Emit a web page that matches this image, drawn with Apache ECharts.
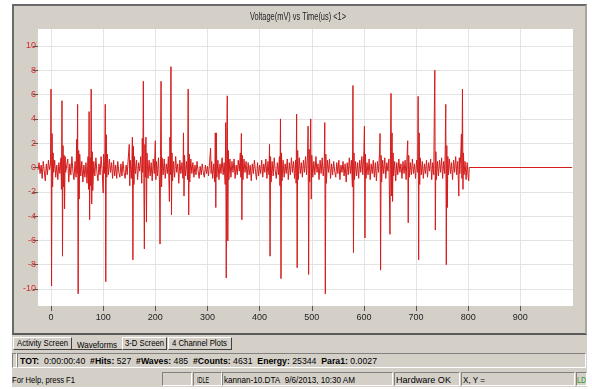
<!DOCTYPE html>
<html><head><meta charset="utf-8">
<script src="https://cdn.jsdelivr.net/npm/echarts@6/dist/echarts.min.js"></script>
<style>
html,body{margin:0;padding:0;background:#fff;}
#root{position:relative;width:592px;height:389px;overflow:hidden;font-family:'Liberation Sans',Arial,sans-serif;color:#000;}
.abs{position:absolute;}
#win{left:12px;top:4px;width:575px;height:383px;background:#d4d0c8;}
#panel{left:12px;top:4px;width:575px;height:331px;box-sizing:border-box;border-top:2px solid #6a6a6a;border-left:2px solid #6a6a6a;border-right:2px solid #a8a59e;border-bottom:2px solid #5a5a5a;}
#chart{left:0;top:0;width:592px;height:334px;}
.t{position:absolute;white-space:nowrap;font-size:9px;line-height:11px;transform-origin:0 50%;}
.tab{position:absolute;top:337px;height:13px;box-sizing:border-box;border-top:1px solid #fff;border-left:1px solid #fff;border-right:1px solid #404040;border-bottom:1px solid #404040;}
.sunk{position:absolute;box-sizing:border-box;border-top:1px solid #808080;border-left:1px solid #808080;border-right:1px solid #fff;border-bottom:1px solid #fff;}
</style></head>
<body>
<div id="root">
  <div id="win" class="abs"></div>
  <div id="panel" class="abs"></div>
  <div id="chart" class="abs"></div>
  <span class="t" style="left:250px;top:11px;font-size:10px;color:#222;" data-w="96">Voltage(mV) vs Time(us) &lt;1&gt;</span>

  <div class="tab" style="left:13px;width:59px;"></div>
  <div class="abs" style="left:72px;top:349px;width:50px;height:1px;background:#404040;"></div>
  <div class="tab" style="left:122px;width:45px;"></div>
  <div class="tab" style="left:168px;width:64px;"></div>
  <span class="t" style="left:17px;top:337.5px;" data-w="51">Activity Screen</span>
  <span class="t" style="left:77px;top:339.5px;" data-w="40">Waveforms</span>
  <span class="t" style="left:125px;top:337.5px;" data-w="39">3-D Screen</span>
  <span class="t" style="left:172px;top:337.5px;" data-w="55">4 Channel Plots</span>

  <div class="sunk" style="left:12px;top:353px;width:5px;height:15px;"></div>
  <div class="sunk" style="left:17px;top:353px;width:569px;height:15px;"></div>
  <span class="t" style="left:20px;top:355.5px;" data-w="357"><b>TOT:</b>&nbsp; 0:00:00:40&nbsp; <b>#Hits:</b> 527&nbsp; <b>#Waves:</b> 485&nbsp; <b>#Counts:</b> 4631&nbsp; <b>Energy:</b> 25344&nbsp; <b>Para1:</b> 0.0027</span>

  <span class="t" style="left:12px;top:374.5px;" data-w="63">For Help, press F1</span>
  <div class="sunk" style="left:162px;top:372px;width:30px;height:14px;"></div>
  <div class="sunk" style="left:193px;top:372px;width:29px;height:14px;"></div>
  <div class="sunk" style="left:222px;top:372px;width:171px;height:14px;"></div>
  <div class="sunk" style="left:394px;top:372px;width:66px;height:14px;"></div>
  <div class="sunk" style="left:461px;top:372px;width:114px;height:14px;"></div>
  <div class="sunk" style="left:576px;top:372px;width:11px;height:14px;"></div>
  <span class="t" style="left:197px;top:374.5px;" data-w="12">IDLE</span>
  <span class="t" style="left:224px;top:374.5px;" data-w="131">kannan-10.DTA&nbsp; 9/6/2013, 10:30 AM</span>
  <span class="t" style="left:396px;top:374.5px;" data-w="55">Hardware OK</span>
  <span class="t" style="left:463px;top:374.5px;" data-w="22">X, Y =</span>
  <span class="t" style="left:577px;top:374.5px;color:#2f9a2f;" data-w="9">LD</span>
</div>
<script>
// Tick values
const xTicks = [0, 100, 200, 300, 400, 500, 600, 700, 800, 900];
const yTicks = [-10, -8, -6, -4, -2, 0, 2, 4, 6, 8, 10];

// Waveform samples [time (us), voltage (mV)]
const wave1 = [[-25,-0.2],[-23,0.4],[-21,-0.5],[-19,0.2],[-17,-0.9],[-15,0.5],[-13,-0.3],[-11,-1.1],[-9,0.3],[-7,-0.6],[-5,0.6],[-3,-0.2],[-1,0.3],
[0,6.45],[1,-9.75],[2,2.8],[3,-1.6],[4,1.2],[5,-0.4],[7,0.6],[9,-0.8],[11,0.2],[13,-1.0],[15,0.4],[17,-0.5],[19,0.8],
[20,-1.8],[21,5.5],[22,-7.3],[23,1.8],[24,-1.6],[25,1.0],[26,-3.4],[27,0.9],[28,-0.4],[30,-0.4],[32,0.7],[34,-1.2],[36,0.3],[38,-0.6],[40,0.9],[42,-0.3],[44,-1.0],[46,0.5],[48,-0.8],
[49,2.3],[50,-0.5],[51,5.2],[52,-10.4],[53,1.4],[54,-2.6],[55,1.1],[57,-0.7],[59,0.5],[61,-1.2],[63,0.2],[65,-0.8],[67,0.4],[69,-1.3],[71,0.9],[72,-1.8],
[73,4.6],[74,-4.3],[75,0.8],[76,-1.5],[77,6.45],[78,-3.0],[79,1.3],[80,-1.9],[82,0.5],[84,-0.7],[86,0.8],[88,-0.4],[90,-1.1],[92,0.3],[94,-0.6],[96,0.9],[98,-0.2],
[100,-2.1],[101,1.1],[103,-0.5],[104,5.2],[105,-9.4],[106,2.7],[107,-0.8],[108,1.1],[110,-0.6],[112,0.7],[114,-0.4],[116,0.4],[118,-0.9],[120,0.6],[122,-0.7],[124,0.2],[126,-0.9],[128,0.5],[130,-0.4],[132,-0.8],[134,0.3],[136,-0.7],[138,0.5],[140,-0.4],[142,-0.9],[144,0.2],[146,-0.6],[148,0.7],
[150,1.9],[151,-1.5],[152,0.6],[154,-0.9],[155,0.3],[156,2.5],[157,-7.6],[158,1.75],[159,-1.4],[160,0.9],[162,-0.5],[164,0.6],[166,-1.0],[168,0.4],[170,-0.3],[172,0.9],[174,-1.3],
[175,2.4],[176,-0.4],[177,7.1],[178,-0.9],[179,-6.7],[180,1.9],[181,-0.8],[182,2.5],[183,-4.5],[184,1.2],[186,-0.9],[188,0.6],[190,-0.7],[192,0.4],[194,-1.1],[196,0.7],[198,-0.5]];
const wave2 = [[200,2.2],[201,-1.0],[202,0.5],[204,-0.7],[206,0.8],[208,-1.2],[209,-6.3],[210,1.0],[211,7.1],[212,-1.6],[213,0.8],[215,-0.6],[217,0.7],[219,-0.9],[221,0.3],[223,-0.5],[225,0.9],
[227,-2.8],[228,2.5],[229,-0.6],[230,8.3],[231,-3.9],[232,1.2],[233,-1.1],[235,0.5],[237,-0.8],[239,0.9],[241,-0.4],[243,0.3],[245,-1.3],[247,0.6],[249,-0.5],[251,0.4],[253,-0.9],
[254,2.85],[255,-2.35],[256,1.0],[258,-0.7],[260,0.5],[262,-1.0],[263,6.45],[264,-3.9],[265,1.1],[266,-1.2],[268,0.7],[270,-0.5],[272,0.4],[274,-0.8],[276,0.2],[278,-0.6],[280,0.5],[282,-0.3],[284,-0.9],[286,0.1],[288,-0.6],[290,0.3],[292,-0.4],[294,-0.8],[296,0.2],[298,-0.5],[300,0.1],[302,-0.7],[304,0.4],
[306,1.6],[307,-0.5],[308,0.5],[310,-0.9],[312,0.3],[314,-1.2],[315,2.85],[316,-3.3],[317,2.85],[318,-0.8],[320,0.6],[322,-1.0],[324,0.3],[326,-0.5],[328,0.8],[330,-0.6],[332,0.4],[334,-1.4],
[335,3.7],[336,-9.1],[337,1.6],[338,5.9],[339,-6.05],[340,1.4],[341,-1.0],[343,0.7],[345,-0.8],[347,0.5],[349,-0.4],[351,0.7],[353,-0.9],[355,0.2],[357,-0.6],[359,0.6],[361,-0.3],[363,1.2],[364,-0.8],
[365,2.8],[366,-4.3],[367,1.0],[368,-1.0],[370,0.7],[372,-0.4],[374,0.5],[376,-0.9],[378,0.4],[380,-0.6],[382,0.2],[384,-1.1],[386,0.3],[388,-0.5],[390,0.6],[392,-0.3],[394,-1.0],[396,0.4],[398,-0.7]];
const wave3 = [[400,0.2],[402,-0.5],[404,0.6],[406,-0.8],[408,0.3],[410,-0.4],[412,0.7],[414,-0.9],[416,0.5],[418,-0.6],[419,1.9],[420,-7.3],[421,0.9],[422,-1.2],[424,0.5],[426,-0.7],[428,0.8],[430,-0.3],[432,-0.9],[434,0.4],[436,-0.6],[438,0.9],
[439,-1.5],[440,4.0],[441,-9.15],[442,1.2],[443,-1.1],[445,0.6],[447,-0.8],[449,0.3],[451,-0.5],[453,0.7],[455,-1.0],[457,0.4],[459,-0.6],[461,0.8],[463,-0.4],[465,0.5],[467,-0.9],[469,0.6],
[470,-1.3],[471,4.4],[472,-8.25],[473,1.4],[474,-1.0],[476,0.8],[478,-0.5],[480,0.4],[482,-0.8],[484,0.6],[486,-0.4],[488,0.9],[490,-0.6],[492,1.1],
[493,3.4],[494,-8.8],[495,1.5],[496,-1.2],[497,0.7],[498,4.0],[499,-2.6],[500,1.0],[502,-0.8],[504,0.5],[506,-0.6],[508,0.9],[510,-0.4],[512,0.3],[514,-1.0],[516,0.6],[518,-0.5],[520,0.8],[522,-0.7],[524,0.4],
[525,3.7],[526,-10.4],[527,1.1],[528,-1.3],[530,0.6],[532,-0.4],[534,0.7],[536,-0.9],[538,0.3],[540,-0.6],[542,0.5],[544,-0.3],[546,-0.8],[548,0.4],[550,-0.5],[552,0.6],[554,-1.0],[556,0.2],[558,-0.4],[560,0.5],[562,-0.7],[564,0.3],[566,-1.2],[568,0.4],[570,-0.6],[572,0.8],[574,-0.5],[576,0.6],
[578,-1.6],[579,6.75],[580,-7.0],[581,1.2],[582,-1.0],[584,0.5],[586,-0.7],[588,0.4],[590,-0.9],[592,0.6],[594,-0.4],[596,0.9],[598,-0.6]];
const wave4 = [[600,1.3],[601,3.4],[602,-5.8],[603,1.1],[604,-0.9],[606,0.4],[608,-0.6],[610,0.7],[612,-1.0],[614,0.3],[616,-0.5],[618,0.6],[620,-0.8],[622,0.4],[624,-1.1],[626,0.5],[628,-0.4],
[630,1.2],[631,2.8],[632,-8.45],[633,1.0],[634,-1.2],[636,0.6],[638,-0.5],[640,0.8],[642,-0.9],[644,0.4],[646,-0.3],[648,0.7],
[650,-5.5],[651,1.3],[652,6.1],[653,-2.35],[654,2.85],[655,-2.8],[656,1.2],[657,-0.7],[659,0.5],[661,-1.1],[663,0.4],[665,-0.6],[667,0.7],[669,-0.4],[671,0.3],[673,-0.9],[675,0.5],[677,-0.5],[679,0.6],[681,-1.0],
[683,1.2],[684,2.2],[685,-4.55],[686,1.0],[687,-0.8],[689,0.4],[691,-0.6],[693,0.7],[695,-0.5],[697,0.3],[699,-0.9],[701,0.6],[703,-0.4],
[704,5.86],[705,-7.6],[706,2.85],[707,-1.4],[708,0.8],[710,-0.6],[712,0.5],[714,-0.9],[716,0.3],[718,-0.5],[720,0.6],[722,-0.8],[724,0.4],[726,-0.3],[728,0.7],[730,-1.0],[732,0.4],[734,-0.6],
[735,4.2],[736,8.0],[737,-5.15],[738,1.3],[739,-1.0],[741,0.5],[743,-0.7],[745,0.6],[747,-0.4],[749,0.8],[751,-0.9],[753,0.5],[755,-0.5],
[756,1.5],[757,5.2],[758,-8.0],[759,1.8],[760,-3.3],[761,0.9],[762,-0.6],[764,0.7],[766,-0.5],[768,0.4],[770,-1.0],[772,0.6],[774,-0.4],[776,0.9],[778,-0.6],[780,0.5],
[782,-2.35],[783,0.8],[784,-0.5],[786,1.4],[787,2.75],[788,-0.9],[789,6.45],[790,-1.8],[791,1.2],[792,-0.6],[794,0.5],[796,-1.0],[798,0.4],[800,-0.8],[801,-1.1],[802,0],[999,0]];

const samples = wave1.concat(wave2, wave3, wave4);

const chart = echarts.init(document.getElementById('chart'), null, {renderer: 'canvas', width: 592, height: 334});
const labelFont = {fontSize: 9, fontFamily: "'Liberation Sans', Arial, sans-serif"};
chart.setOption({
  animation: false,
  grid: {left: 38, top: 29, width: 535, height: 277, show: true, backgroundColor: '#ffffff', borderWidth: 0},
  xAxis: {
    type: 'value', min: -25, max: 1001, splitNumber: 10,
    axisLine: {show: false, onZero: false},
    axisTick: {show: true, customValues: xTicks, length: 5, lineStyle: {color: '#555'}},
    axisLabel: Object.assign({customValues: xTicks, margin: 7, color: '#222'}, labelFont),
    splitLine: {show: true, lineStyle: {color: '#e3e3e3', width: 1}}
  },
  yAxis: {
    type: 'value', min: -11.4, max: 11.4, splitNumber: 11,
    axisLine: {show: false, onZero: false},
    axisTick: {show: true, customValues: yTicks, length: 5, lineStyle: {color: '#555'}},
    axisLabel: Object.assign({customValues: yTicks, margin: 2, color: '#d42a2a'}, labelFont),
    splitLine: {show: true, lineStyle: {color: '#e3e3e3', width: 1}}
  },
  series: [{
    type: 'line', data: samples, showSymbol: false, silent: true, sampling: null,
    color: '#d41c1c',
    itemStyle: {color: '#d41c1c'},
    lineStyle: {color: '#d41c1c', width: 1}
  }]
});

// fit HTML texts to measured widths
document.querySelectorAll('[data-w]').forEach(function (el) {
  const w = parseFloat(el.getAttribute('data-w'));
  const a = el.getBoundingClientRect().width;
  if (a > 0) el.style.transform = 'scaleX(' + (w / a) + ')';
});
</script>
</body></html>
